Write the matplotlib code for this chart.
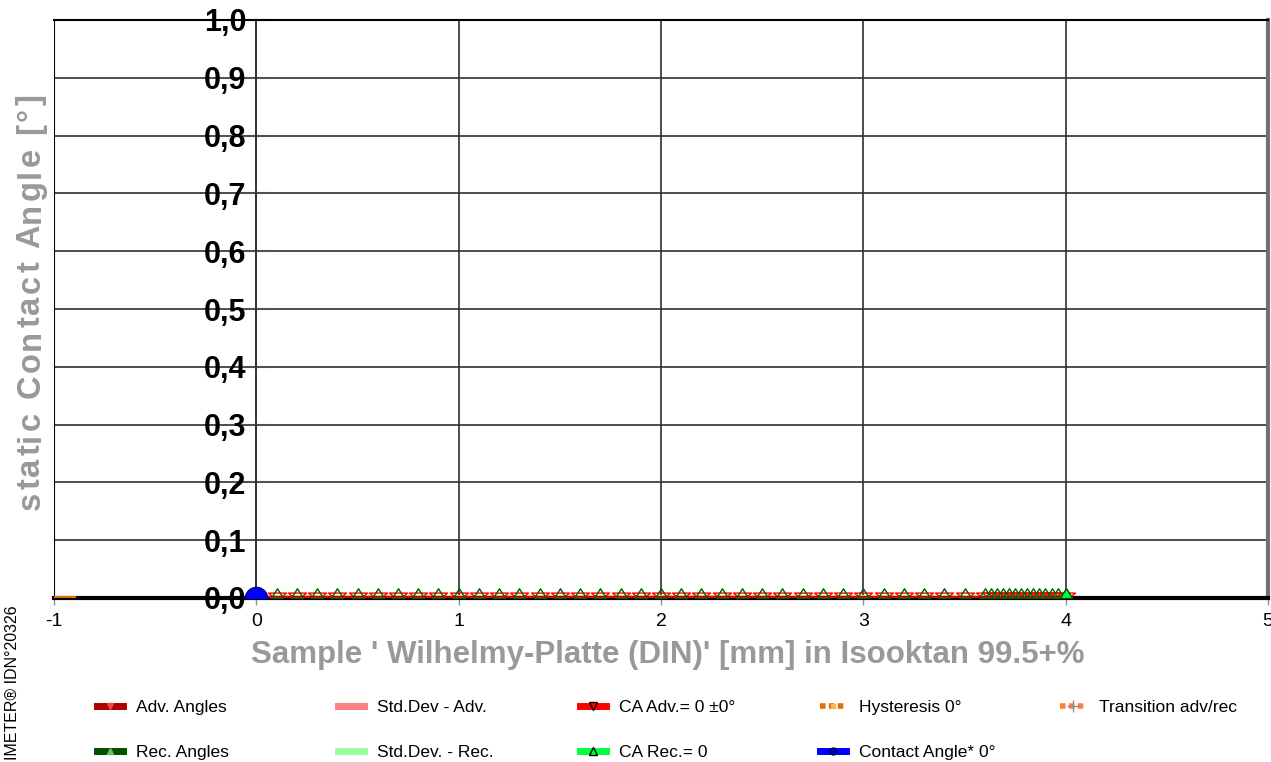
import matplotlib
matplotlib.use("Agg")
import matplotlib.pyplot as plt
from matplotlib.lines import Line2D
from matplotlib.path import Path
from matplotlib.ticker import FuncFormatter

# sample positions of the receding / advancing measurements [mm]
sample_x = [0.0, 0.1, 0.2, 0.3, 0.4, 0.5, 0.6, 0.7, 0.8, 0.9,
            1.0, 1.1, 1.2, 1.3, 1.4, 1.5, 1.6, 1.7, 1.8, 1.9,
            2.0, 2.1, 2.2, 2.3, 2.4, 2.5, 2.6, 2.7, 2.8, 2.9,
            3.0, 3.1, 3.2, 3.3, 3.4, 3.5, 3.6,
            3.63, 3.66, 3.69, 3.72, 3.75, 3.78, 3.81, 3.84, 3.87, 3.9,
            3.93, 3.96, 4.0]
# every angle in this measurement reads 0
adv_angles = [0.0] * len(sample_x)
rec_angles = [0.0] * len(sample_x)
ca_adv = [0.0] * len(sample_x)
ca_rec = [0.0] * len(sample_x)
std_adv = [0.0] * len(sample_x)
std_rec = [0.0] * len(sample_x)

hyst_x = [-1.0, -0.9]
hyst_y = [0.0, 0.0]
contact_x = [0.0]
contact_y = [0.0]
rec_end_x = [4.0]
rec_end_y = [0.0]

y_ticks = [0.0, 0.1, 0.2, 0.3, 0.4, 0.5, 0.6, 0.7, 0.8, 0.9, 1.0]
x_ticks = [-1, 0, 1, 2, 3, 4, 5]

W, H = 1271, 762
GRAY = "#999999"
plt.rcParams["font.family"] = ["Liberation Sans", "DejaVu Sans"]
plt.rcParams["axes.unicode_minus"] = False

# triangle markers sitting on the point (base on the value), like the original software
up_tri = Path([(-1.0, 0.0), (1.0, 0.0), (0.0, 1.6), (-1.0, 0.0)],
              [Path.MOVETO, Path.LINETO, Path.LINETO, Path.CLOSEPOLY])
down_tri = Path([(-1.0, 0.6), (1.0, 0.6), (0.0, -0.2), (-1.0, 0.6)],
                [Path.MOVETO, Path.LINETO, Path.LINETO, Path.CLOSEPOLY])

fig = plt.figure(figsize=(W / 100, H / 100), dpi=100)
ax = fig.add_axes([54 / W, 1 - 598 / H, (1268 - 54) / W, (598 - 20) / H])

ax.plot(sample_x, std_adv, color="#ff8080", lw=5, zorder=3)
ax.plot(sample_x, std_rec, color="#99ff99", lw=4, zorder=3)
ax.plot(sample_x, adv_angles, color="#aa0000", lw=3, zorder=4)
ax.plot(sample_x, rec_angles, color="#005000", lw=2, zorder=4)
ax.plot(sample_x, ca_adv, color="#ff0000", lw=2.5, marker=down_tri, ms=13,
        mfc="none", mec="#ff0000", mew=1.0, zorder=5)
ax.plot(sample_x, ca_rec, color="#00ff40", lw=0, marker=up_tri, ms=14,
        mfc="none", mec="#006000", mew=1.0, zorder=6)
ax.plot(rec_end_x, rec_end_y, lw=0, marker=up_tri, ms=14,
        mfc="#00ff40", mec="#006000", mew=1.0, zorder=7)
ax.plot(hyst_x, hyst_y, color="#e07000", lw=3, zorder=6)
ax.plot(contact_x, contact_y, lw=0, marker="o", ms=16, mfc="#0000ff",
        mec="#000080", mew=1.0, zorder=8)

ax.set_xlim(-1, 5)
ax.set_ylim(0, 1)
ax.set_xticks(x_ticks)
ax.set_yticks(y_ticks)
ax.yaxis.set_major_formatter(FuncFormatter(lambda v, p: f"{v:.1f}".replace(".", ",")))
ax.grid(True, color="#303030", lw=1.2, zorder=1)
ax.set_axisbelow(True)

ax.spines["left"].set_position(("data", 0))
ax.spines["left"].set_color("#303030")
ax.spines["left"].set_linewidth(1.2)
ax.spines["bottom"].set_linewidth(3)
ax.spines["bottom"].set_color("black")
ax.spines["top"].set_linewidth(1.5)
ax.spines["right"].set_linewidth(3)
ax.spines["right"].set_color("#707070")
ax.axvline(-1, color="black", lw=1.5, zorder=2)

ax.tick_params(axis="y", direction="inout", length=20, width=1.5, color="#505050",
               labelsize=22, pad=-3)
for lab in ax.get_yticklabels():
    lab.set_fontweight("bold")
ax.tick_params(axis="x", direction="out", length=5, width=1, color="#909090",
               labelsize=14, pad=6)

fig.text(668 / W, 1 - 655 / H, "Sample ' Wilhelmy-Platte (DIN)' [mm] in Isooktan 99.5+%",
         fontsize=22.5, fontweight="bold", color=GRAY, ha="center", va="center")

# y label is letter-spaced in the original: lay it out character by character
ylabel = "static Contact Angle [°]"
tracking = 2.5
renderer = fig.canvas.get_renderer()


def text_width(s):
    t = fig.text(0, 0, s + "|", fontsize=23.5, fontweight="bold")
    ref = fig.text(0, 0, "|", fontsize=23.5, fontweight="bold")
    w = t.get_window_extent(renderer).width - ref.get_window_extent(renderer).width
    t.remove()
    ref.remove()
    return w


offsets = [text_width(ylabel[:i]) + i * tracking for i in range(len(ylabel))]
total = text_width(ylabel) + (len(ylabel) - 1) * tracking
y_start = (H - 302) - total / 2
for ch, off in zip(ylabel, offsets):
    if ch == " ":
        continue
    fig.text(31 / W, (y_start + off) / H, ch, rotation=90, fontsize=23.5,
             fontweight="bold", color=GRAY, ha="center", va="bottom")

fig.text(12 / W, 2 / H, "IMETER® IDN°20326", rotation=90, fontsize=11.5,
         ha="center", va="bottom")

# legend, five columns in two rows
columns = [
    [Line2D([], [], color="#aa0000", lw=5, marker="v", ms=4, mfc="#ff4040", mec="#ff4040"),
     Line2D([], [], color="#005000", lw=5, marker="^", ms=4, mfc="#60c060", mec="#60c060")],
    [Line2D([], [], color="#ff8080", lw=5),
     Line2D([], [], color="#99ff99", lw=5)],
    [Line2D([], [], color="#ff0000", lw=5, marker="v", ms=6, mfc="none", mec="black", mew=1),
     Line2D([], [], color="#00ff40", lw=5, marker="^", ms=6, mfc="none", mec="black", mew=1)],
    [Line2D([], [], color="#e07000", lw=4, ls=(0, (1, 0.6)), marker="s", ms=3, mfc="#ffb060", mec="#ffb060"),
     Line2D([], [], color="#0000ff", lw=5, marker="o", ms=5, mfc="#0000aa", mec="#000060")],
    [Line2D([], [], color="#ff8040", lw=4, ls=(0, (1, 0.6)), marker="+", ms=8, mec="#909090", mew=1)],
]
labels = [
    ["Adv. Angles", "Rec. Angles"],
    ["Std.Dev - Adv.", "Std.Dev. - Rec."],
    ["CA Adv.= 0 ±0°", "CA Rec.= 0"],
    ["Hysteresis 0°", "Contact Angle* 0°"],
    ["Transition adv/rec"],
]
col_left = [94, 335, 577, 817, 1057]
for hs, ls, xl in zip(columns, labels, col_left):
    fig.legend(hs, ls, loc="upper left", bbox_to_anchor=(xl / W, 1 - 696 / H),
               frameon=False, handlelength=1.45, handletextpad=0.75, labelspacing=1.75,
               borderaxespad=0, borderpad=0.2,
               prop={"family": ["Liberation Sans Narrow", "Liberation Sans", "DejaVu Sans"],
                     "size": 12.5})

fig.savefig("out.png", dpi=100)
